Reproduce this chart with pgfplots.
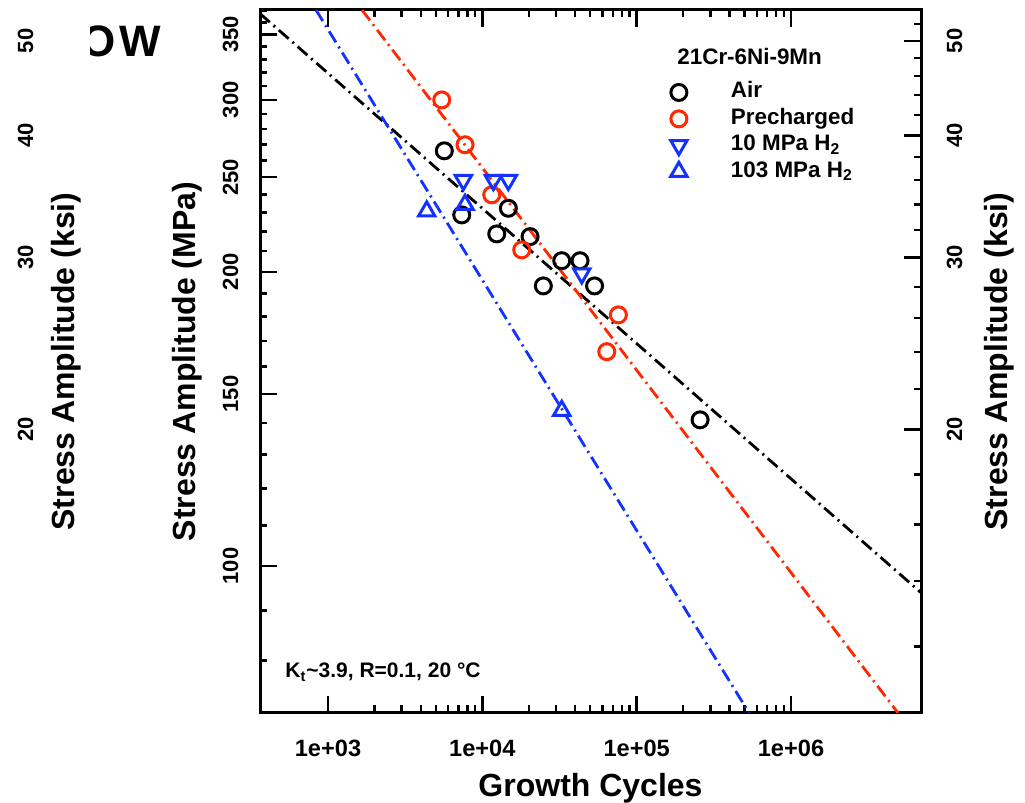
\documentclass[border=0pt]{standalone}
\usepackage{pgfplots}
\pgfplotsset{compat=1.18}
\usepackage{fontspec}
\setmainfont{Liberation Sans}
\definecolor{myred}{RGB}{255,40,0}
\definecolor{myblue}{RGB}{20,50,255}

\pgfplotstableread{
x y
5672 266.0
7355 228.7
12400 218.7
14740 232.3
20380 217.3
24850 193.5
32700 205.3
42970 205.3
53350 193.5
257600 141.1
}\airdata
\pgfplotstableread{
x y
5456 299.9
7726 269.8
11506 239.8
18000 210.6
64010 165.7
76130 180.7
}\predata
\pgfplotstableread{
x y
7536 248.2
11790 248.2
14740 248.2
44080 199.2
}\tenmpa
\pgfplotstableread{
x y
4362 230.7
7726 234.3
32700 144.2
}\hundredmpa

\tikzset{
  myticklab/.style={font=\bfseries\fontsize{11}{13}\selectfont},
  myxticklab/.style={font=\bfseries\fontsize{11.8}{14}\selectfont},
  myaxlab/.style={font=\bfseries\fontsize{16}{19}\selectfont},
  mydashdot/.style={line width=1.4pt, dash pattern=on 6.5pt off 2.5pt on 1pt off 2.5pt},
}
\pgfplotsset{
  mylegmark/.style={legend image code/.code={\draw[##1] plot coordinates {(0pt,0pt)}; \path (-5pt,0pt) (24pt,0pt);}},
}

\begin{document}
\begin{tikzpicture}
\useasboundingbox (0,0) rectangle (512.5pt,401.5pt);

\begin{scope}
\clip (45pt,0pt) rectangle (512.5pt,401.5pt);
\node[anchor=base east, inner sep=0pt, font=\bfseries\fontsize{22}{26}\selectfont] at (80.5pt,373pt) {O\kern1.5pt W};
\end{scope}

% left ksi axis (labels only)
\begin{axis}[
  width=330.5pt, height=351.5pt, scale only axis,
  at={(130pt,45pt)}, anchor=south west,
  xmode=log, ymode=log,
  xmin=362.6, xmax=6.957e6, ymin=10.257, ymax=53.766,
  hide x axis, y axis line style={draw=none},
  tick align=inside, ytick pos=left,
  major tick length=0pt, minor tick length=0pt,
  ytick={20,30,40,50}, yticklabels={20,30,40,50}, minor ytick={},
  yticklabel style={myticklab, xshift=-113.5pt, rotate=90, anchor=base},
  ylabel={Stress Amplitude (ksi)},
  ylabel style={myaxlab, at={(axis description cs:-0.2799,0.5)}, rotate=0, anchor=base},
]
\end{axis}

% right ksi axis
\begin{axis}[
  width=330.5pt, height=351.5pt, scale only axis,
  at={(130pt,45pt)}, anchor=south west,
  xmode=log, ymode=log,
  xmin=362.6, xmax=6.957e6, ymin=10.257, ymax=53.766,
  hide x axis, y axis line style={draw=none},
  tick align=inside, ytick pos=right,
  major tick length=8.5pt, minor tick length=3.75pt,
  tick style={line width=1.2pt, black},
  ytick={20,30,40,50}, yticklabels={20,30,40,50},
  minor ytick={12,14,16,18,22,24,26,28,32,34,36,38,42,44,46,48,52},
  yticklabel style={myticklab, xshift=20.5pt, rotate=90, anchor=base},
  ylabel={Stress Amplitude (ksi)},
  ylabel style={myaxlab, at={(axis description cs:1.1301,0.5)}, rotate=0, anchor=base},
]
\end{axis}

% main MPa axis
\begin{axis}[
  width=330.5pt, height=351.5pt, scale only axis,
  at={(130pt,45pt)}, anchor=south west,
  xmode=log, ymode=log,
  xmin=362.6, xmax=6.957e6, ymin=70.72, ymax=370.7,
  tick align=inside,
  major tick length=8.5pt, minor tick length=3.75pt,
  tick style={line width=1.2pt, black},
  axis line style={line width=1.5pt},
  xtick pos=both, ytick pos=left,
  xtick={1e3,1e4,1e5,1e6}, xticklabels={1e+03,1e+04,1e+05,1e+06},
  ytick={100,150,200,250,300,350}, yticklabels={100,150,200,250,300,350},
  minor ytick={80,90,110,120,130,140,160,170,180,190,210,220,230,240,260,270,280,290,310,320,330,340,360,370},
  xticklabel style={myxticklab, anchor=base, yshift=-22pt},
  yticklabel style={myticklab, xshift=-11pt, rotate=90, anchor=base},
  xlabel={Growth Cycles}, ylabel={Stress Amplitude (MPa)},
  xlabel style={myaxlab, at={(axis description cs:0.5,0)}, anchor=base, yshift=-42pt},
  ylabel style={myaxlab, at={(axis description cs:-0.0983,0.5)}, rotate=0, anchor=base},
  legend style={at={(rel axis cs:0.6157,0.902)}, anchor=north west, draw=none, fill=none,
    inner sep=0pt, row sep=0pt, font=\bfseries\fontsize{11.2}{13}\selectfont,
    nodes={text height=8pt, text depth=2.6pt, inner sep=1.3pt}},
  legend cell align=left,
]
\addplot[black, mydashdot, forget plot]
  coordinates {(362.6,367.5) (6.957e6,93.9)};
\addplot[myred, mydashdot, forget plot]
  coordinates {(1661,370.7) (4.94e6,70.72)};
\addplot[myblue, mydashdot, forget plot]
  coordinates {(836,370.7) (535300,70.72)};

\addplot[only marks, black, mark=o, mark size=4pt, line width=1.5pt, mark options={solid}, mylegmark]
  table[x=x,y=y] {\airdata};
\addlegendentry{Air}
\addplot[only marks, myred, mark=o, mark size=4pt, line width=1.5pt, mark options={solid}, mylegmark]
  table[x=x,y=y] {\predata};
\addlegendentry{Precharged}
\addplot[only marks, myblue, mark=triangle, mark size=4.7pt, line width=1.5pt, mark options={solid, rotate=180}, mylegmark]
  table[x=x,y=y] {\tenmpa};
\addlegendentry{10 MPa H\textsubscript{2}}
\addplot[only marks, myblue, mark=triangle, mark size=4.7pt, line width=1.5pt, mark options={solid}, mylegmark]
  table[x=x,y=y] {\hundredmpa};
\addlegendentry{103 MPa H\textsubscript{2}}

\node[anchor=base west, inner sep=0pt, font=\bfseries\fontsize{11.2}{13}\selectfont] at (rel axis cs:0.6309,0.9218) {21Cr-6Ni-9Mn};
\node[anchor=base west, inner sep=0pt, font=\bfseries\fontsize{10.5}{12}\selectfont] at (rel axis cs:0.0378,0.0498) {K\textsubscript{t}\textasciitilde3.9, R=0.1, 20 °C};
\end{axis}
\end{tikzpicture}
\end{document}
